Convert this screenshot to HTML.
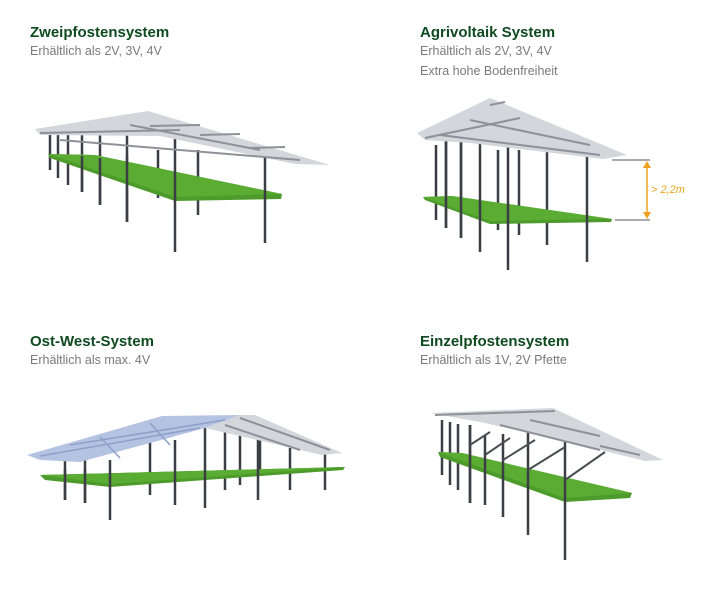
<!DOCTYPE html>
<html><head><meta charset="utf-8"><style>
html,body{margin:0;padding:0;background:#fff;}
svg{display:block}
.h{font-family:"Liberation Sans",sans-serif;font-weight:bold;font-size:15px;fill:#0f4a20}
.s{font-family:"Liberation Sans",sans-serif;font-size:12.5px;fill:#7a7a7a}
.p{stroke:#3b3e44;stroke-width:2.5;}
.b{stroke:#4a4d52;stroke-width:2;}
.r{stroke:#8d9299;stroke-width:2;}
</style></head><body>
<svg width="707" height="611" viewBox="0 0 707 611" xmlns="http://www.w3.org/2000/svg">
<text class="h" x="30" y="37">Zweipfostensystem</text>
<text class="s" x="30" y="55">Erhältlich als 2V, 3V, 4V</text>
<text class="h" x="420" y="37">Agrivoltaik System</text>
<text class="s" x="420" y="55">Erhältlich als 2V, 3V, 4V</text>
<text class="s" x="420" y="75">Extra hohe Bodenfreiheit</text>
<text class="h" x="30" y="346">Ost-West-System</text>
<text class="s" x="30" y="364">Erhältlich als max. 4V</text>
<text class="h" x="420" y="346">Einzelpfostensystem</text>
<text class="s" x="420" y="364">Erhältlich als 1V, 2V Pfette</text>

<!-- 1 Zweipfosten -->
<g>
<g class="p">
<line x1="50" y1="132" x2="50" y2="170"/><line x1="58" y1="132" x2="58" y2="178"/><line x1="68" y1="133" x2="68" y2="185"/><line x1="82" y1="133" x2="82" y2="192"/><line x1="100" y1="135" x2="100" y2="205"/><line x1="127" y1="133" x2="127" y2="222"/><line x1="158" y1="150" x2="158" y2="198"/><line x1="198" y1="150" x2="198" y2="215"/>
</g>
<polygon points="48,154 95,155 282,194 281,199 175,201 50,158" fill="#4c9b2b"/>
<polygon points="48,154 95,155 282,194 175,197" fill="#5aac33"/>
<g class="p">
<line x1="175" y1="130" x2="175" y2="252"/><line x1="265" y1="155" x2="265" y2="243"/><line x1="127" y1="155" x2="127" y2="222"/><line x1="100" y1="158" x2="100" y2="205"/><line x1="82" y1="156" x2="82" y2="192"/>
</g>
<polygon points="35,129 148,111 330,165 295,164 160,136 40,135" fill="#d3d6db"/>
<g class="r"><line x1="40" y1="133" x2="180" y2="130"/><line x1="130" y1="125" x2="260" y2="150"/><line x1="60" y1="140" x2="300" y2="160"/><line x1="150" y1="126" x2="200" y2="125"/><line x1="200" y1="135" x2="240" y2="134"/><line x1="250" y1="148" x2="285" y2="147"/></g>
</g>

<!-- 2 Agrivoltaik -->
<g>
<g class="p">
<line x1="436" y1="145" x2="436" y2="220"/><line x1="446" y1="140" x2="446" y2="228"/><line x1="461" y1="135" x2="461" y2="238"/><line x1="498" y1="150" x2="498" y2="230"/><line x1="519" y1="150" x2="519" y2="235"/><line x1="547" y1="150" x2="547" y2="245"/>
</g>
<polygon points="423,197 452,196 612,219 611,222 490,224 425,200" fill="#4c9b2b"/>
<polygon points="423,197 452,196 612,219 490,221" fill="#5aac33"/>
<g class="p">
<line x1="508" y1="118" x2="508" y2="270"/><line x1="587" y1="148" x2="587" y2="262"/><line x1="480" y1="128" x2="480" y2="252"/><line x1="461" y1="135" x2="461" y2="238"/><line x1="446" y1="140" x2="446" y2="228"/>
</g>
<polygon points="417,133 490,98 627,155 603,159 470,143 425,140" fill="#d3d6db"/>
<g class="r"><line x1="425" y1="138" x2="520" y2="118"/><line x1="470" y1="120" x2="590" y2="145"/><line x1="440" y1="135" x2="600" y2="155"/><line x1="490" y1="105" x2="505" y2="102"/></g>
<g stroke="#555" stroke-width="1"><line x1="612" y1="160" x2="650" y2="160"/><line x1="615" y1="220" x2="650" y2="220"/></g>
<line x1="647" y1="163" x2="647" y2="217" stroke="#f0a21f" stroke-width="1.5"/>
<polygon points="647,161 643,168 651,168" fill="#f0a21f"/><polygon points="647,219 643,212 651,212" fill="#f0a21f"/>
<text x="651" y="193" font-family="Liberation Sans,sans-serif" font-style="italic" font-size="11" fill="#f0a21f">&gt; 2,2m</text>
</g>

<!-- 3 Ost-West -->
<g>
<g class="p">
<line x1="65" y1="452" x2="65" y2="500"/><line x1="85" y1="455" x2="85" y2="503"/><line x1="150" y1="440" x2="150" y2="495"/><line x1="225" y1="430" x2="225" y2="490"/><line x1="240" y1="420" x2="240" y2="485"/><line x1="290" y1="448" x2="290" y2="490"/><line x1="325" y1="450" x2="325" y2="490"/><line x1="260" y1="430" x2="260" y2="470"/>
</g>
<polygon points="40,475 345,467 343,470 110,487 45,480" fill="#4c9b2b"/>
<polygon points="40,475 345,467 110,484" fill="#5aac33"/>
<g class="p">
<line x1="110" y1="460" x2="110" y2="520"/><line x1="175" y1="440" x2="175" y2="505"/><line x1="205" y1="428" x2="205" y2="508"/><line x1="258" y1="425" x2="258" y2="500"/><line x1="85" y1="470" x2="85" y2="503"/><line x1="65" y1="470" x2="65" y2="500"/>
</g>
<polygon points="27,455 162,416 240,415 205,428 80,462 40,460" fill="#b4c3e2"/>
<polygon points="205,428 240,415 255,415 342,453 322,455" fill="#d3d6db"/>
<g stroke="#8ea0c8" stroke-width="1.5"><line x1="40" y1="456" x2="200" y2="428"/><line x1="70" y1="445" x2="225" y2="420"/><line x1="100" y1="437" x2="120" y2="458"/><line x1="150" y1="423" x2="170" y2="445"/></g>
<g class="r"><line x1="240" y1="418" x2="330" y2="450"/><line x1="225" y1="425" x2="300" y2="450"/></g>
</g>

<!-- 4 Einzelpfosten -->
<g>
<g class="p">
<line x1="442" y1="420" x2="442" y2="475"/><line x1="450" y1="422" x2="450" y2="485"/><line x1="458" y1="424" x2="458" y2="490"/><line x1="470" y1="425" x2="470" y2="503"/>
</g>
<polygon points="438,452 462,453 632,493 630,498 565,502 440,457" fill="#4c9b2b"/>
<polygon points="438,452 462,453 632,493 565,498" fill="#5aac33"/>
<g class="p">
<line x1="565" y1="428" x2="565" y2="560"/><line x1="528" y1="425" x2="528" y2="535"/><line x1="503" y1="434" x2="503" y2="517"/><line x1="485" y1="435" x2="485" y2="505"/><line x1="470" y1="425" x2="470" y2="503"/>
</g>
<g class="b"><line x1="565" y1="480" x2="605" y2="452"/><line x1="528" y1="470" x2="565" y2="447"/><line x1="503" y1="460" x2="535" y2="440"/><line x1="485" y1="455" x2="510" y2="438"/><line x1="470" y1="445" x2="490" y2="432"/></g>
<polygon points="430,413 553,408 663,460 645,461 560,440 480,422" fill="#d3d6db"/>
<g class="r"><line x1="435" y1="415" x2="555" y2="411"/><line x1="530" y1="420" x2="600" y2="436"/><line x1="500" y1="425" x2="600" y2="450"/><line x1="600" y1="446" x2="640" y2="455"/></g>
</g>
</svg>
</body></html>
